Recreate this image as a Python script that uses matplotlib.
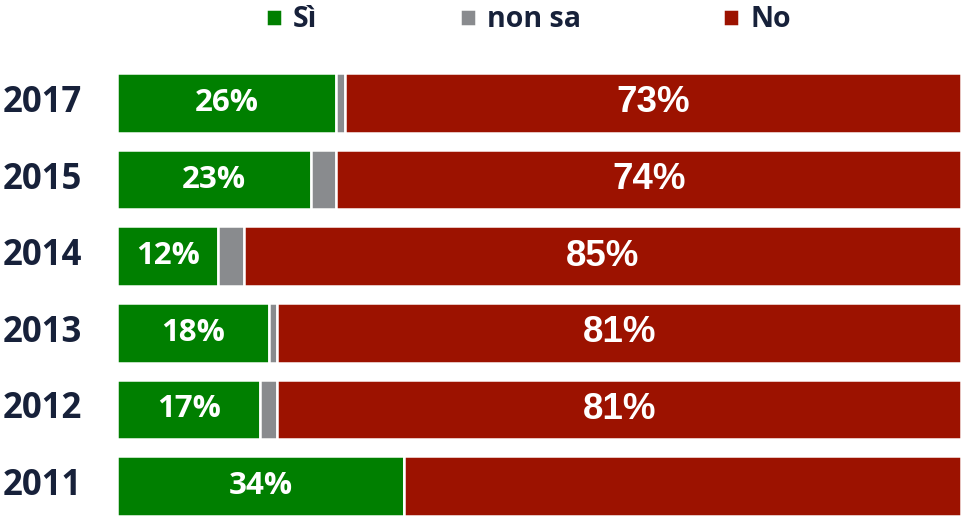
import matplotlib
matplotlib.use("Agg")
from matplotlib import pyplot as plt
from matplotlib.transforms import blended_transform_factory
import numpy as np

years = ["2017", "2015", "2014", "2013", "2012", "2011"]
si = [26, 23, 12, 18, 17, 34]
non_sa = [1, 3, 3, 1, 2, 0]
no = [73, 74, 85, 81, 81, 66]
no_labels = ["73%", "74%", "85%", "81%", "81%", ""]

green = "#007f00"
grey = "#898b8e"
red = "#9c1200"
navy = "#17213a"
font = "Open Sans"

fig = plt.figure(figsize=(9.61, 5.19), dpi=100)
ax = fig.add_axes([117 / 961, 0, 844 / 961, 1 - 60 / 519])

y = np.arange(len(years))
h = 0.78
left = np.zeros(len(years))
b1 = ax.barh(y, si, height=h, left=left, color=green, edgecolor="white", linewidth=1.8, label="Sì")
left += si
b2 = ax.barh(y, non_sa, height=h, left=left, color=grey, edgecolor="white", linewidth=1.8, label="non sa")
left += non_sa
b3 = ax.barh(y, no, height=h, left=left, color=red, edgecolor="white", linewidth=1.8, label="No")

trans = blended_transform_factory(fig.transFigure, ax.transData)
for i in range(len(years)):
    ax.text(si[i] / 2, y[i], f"{si[i]}%", ha="center", va="center",
            color="white", fontsize=22.5, fontweight="bold", family=font)
    if no_labels[i]:
        ax.text(si[i] + non_sa[i] + no[i] / 2, y[i], no_labels[i], ha="center", va="center",
                color="white", fontsize=26.5, fontweight="bold", family="Liberation Sans")
    ax.text(3 / 961, y[i], years[i], transform=trans, ha="left", va="center",
            color=navy, fontsize=25, fontweight="bold", family=font, clip_on=False)

ax.set_xlim(0, 100)
ax.set_ylim(5.431, -0.561)
ax.axis("off")

fig.legend(handles=[b1, b2, b3], loc="center", bbox_to_anchor=(0.55, 0.962), ncol=3,
           frameon=False, handlelength=0.55, handleheight=0.55, handletextpad=0.4,
           columnspacing=5.0, prop={"family": font, "weight": "bold", "size": 20.5},
           labelcolor=navy)

fig.savefig("out.png", dpi=100)
plt.close(fig)
